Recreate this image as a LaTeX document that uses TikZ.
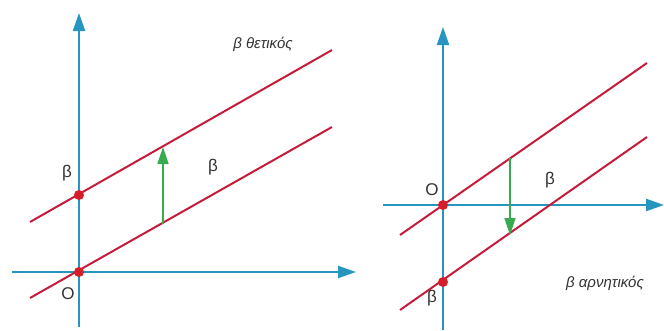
\documentclass[tikz,border=0pt]{standalone}
\usepackage{fontspec}
\setmainfont{Liberation Sans}
\usetikzlibrary{arrows.meta}
\definecolor{axiscol}{RGB}{38,150,192}
\definecolor{linecol}{RGB}{196,28,58}
\definecolor{dotcol}{RGB}{214,30,42}
\definecolor{arrcol}{RGB}{58,170,80}
\begin{document}
\begin{tikzpicture}[x=1pt,y=-1pt,
  axisline/.style={draw=axiscol,line width=2.2pt,-{Triangle[length=18pt,width=12pt]}},
  redline/.style={draw=linecol,line width=2pt},
  shiftarrow/.style={draw=arrcol,line width=1.6pt,-{Triangle[length=17pt,width=11pt]}},
  dotnode/.style={circle,fill=dotcol,inner sep=0pt,minimum size=10pt},
  lbl/.style={font=\fontsize{17}{17}\selectfont,text=black!80,inner sep=0pt},
  ilbl/.style={font=\fontsize{15}{15}\selectfont\itshape,text=black!80,inner sep=0pt}]
\useasboundingbox[fill=white] (0,0) rectangle (664,330);
% left panel
\coordinate (Ly0) at (79,327); \coordinate (Ly1) at (79,13);
\coordinate (Lx0) at (12,272); \coordinate (Lx1) at (356,272);
\coordinate (La0) at (30,298); \coordinate (La1) at (332,127);
\coordinate (Lb0) at (30,222); \coordinate (Lb1) at (332,50);
\coordinate (Lg0) at (163,224); \coordinate (Lg1) at (163,147);
\draw[axisline] (Ly0) -- (Ly1);
\draw[axisline] (Lx0) -- (Lx1);
\draw[redline] (La0) -- (La1);
\draw[redline] (Lb0) -- (Lb1);
\draw[shiftarrow] (Lg0) -- (Lg1);
\node[dotnode] (LO) at (79,272) {};
\node[dotnode] (LB) at (79,195) {};
\node[lbl] (LOt) at (68,294) {O};
\node[lbl] (LBt) at (67,173) {β};
\node[lbl] (LMt) at (213,167) {β};
\node[ilbl] (Lpos) at (263,44) {β θετικός};
% right panel
\coordinate (Ry0) at (443,330); \coordinate (Ry1) at (443,27);
\coordinate (Rx0) at (383,205); \coordinate (Rx1) at (664,205);
\coordinate (Ra0) at (400,235); \coordinate (Ra1) at (647,63);
\coordinate (Rb0) at (400,310); \coordinate (Rb1) at (647,137);
\coordinate (Rg0) at (510,158); \coordinate (Rg1) at (510,235);
\draw[axisline] (Ry0) -- (Ry1);
\draw[axisline] (Rx0) -- (Rx1);
\draw[redline] (Ra0) -- (Ra1);
\draw[redline] (Rb0) -- (Rb1);
\draw[shiftarrow] (Rg0) -- (Rg1);
\node[dotnode] (RO) at (443,205) {};
\node[dotnode] (RB) at (443,282) {};
\node[lbl] (ROt) at (432,190) {O};
\node[lbl] (RBt) at (432,298) {β};
\node[lbl] (RMt) at (550,180) {β};
\node[ilbl] (Rneg) at (605,283) {β αρνητικός};
\end{tikzpicture}
\end{document}
